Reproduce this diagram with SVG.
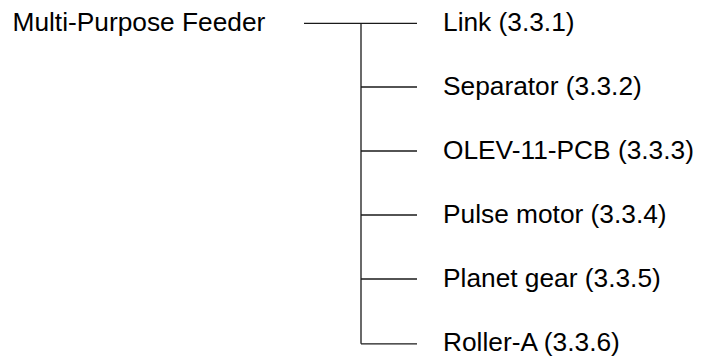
<svg xmlns="http://www.w3.org/2000/svg" width="705" height="363" viewBox="0 0 705 363">
<style>
text{font-family:"Liberation Sans",Arial,sans-serif;font-size:26.3px;fill:#000}
.c line{stroke:#1a1a1a;stroke-width:1.3}
</style>
<rect width="705" height="363" fill="#fff"/>
<g class="c" id="connectors">
<line x1="304" y1="23.3" x2="417" y2="23.3"/>
<line x1="361" y1="23.3" x2="361" y2="343.8"/>
<line x1="361" y1="87" x2="417" y2="87"/>
<line x1="361" y1="151" x2="417" y2="151"/>
<line x1="361" y1="215" x2="417" y2="215"/>
<line x1="361" y1="279" x2="417" y2="279"/>
<line x1="361" y1="343.8" x2="417" y2="343.8"/>
</g>
<g id="root"><text x="12.5" y="30.8">Multi-Purpose Feeder</text></g>
<g id="n1"><text x="443" y="31">Link (3.3.1)</text></g>
<g id="n2"><text x="443" y="94.7">Separator (3.3.2)</text></g>
<g id="n3"><text x="443" y="158.7">OLEV-11-PCB (3.3.3)</text></g>
<g id="n4"><text x="443" y="222.7">Pulse motor (3.3.4)</text></g>
<g id="n5"><text x="443" y="286.7">Planet gear (3.3.5)</text></g>
<g id="n6"><text x="443" y="351">Roller-A (3.3.6)</text></g>
</svg>
